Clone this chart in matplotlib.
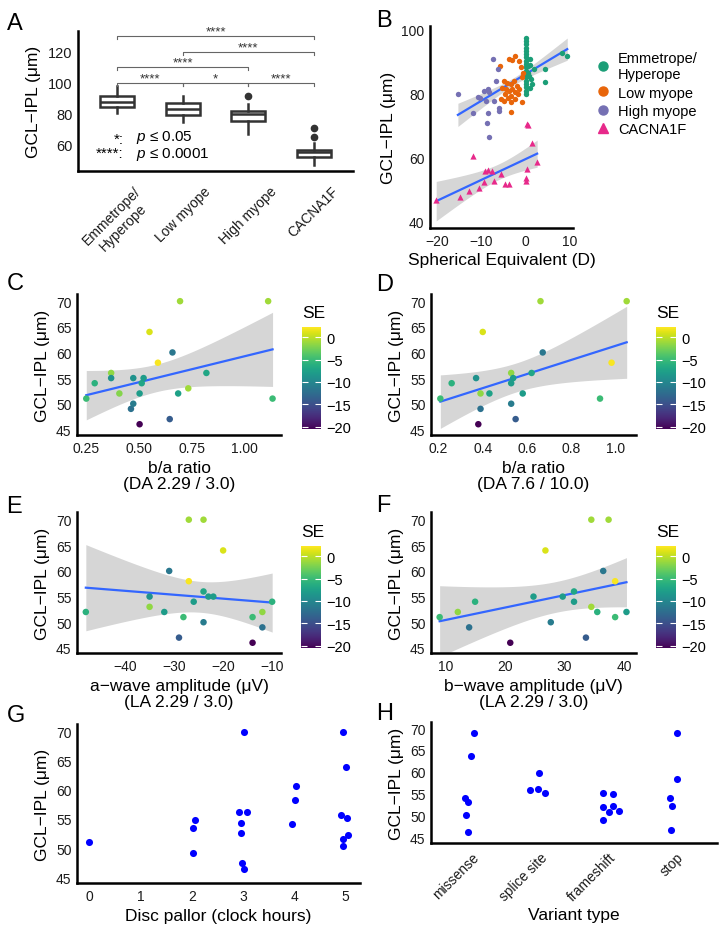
import matplotlib
matplotlib.use("Agg")
import matplotlib.pyplot as plt
import numpy as np
from matplotlib.colors import Normalize
from matplotlib.lines import Line2D

plt.rcParams["font.family"] = ["Liberation Sans", "DejaVu Sans"]
plt.rcParams["mathtext.fontset"] = "custom"
plt.rcParams["mathtext.it"] = "Liberation Sans:italic"
plt.rcParams["mathtext.rm"] = "Liberation Sans"

W, H = 721, 928
YLAB = "GCL\u2212IPL (\u03bcm)"

# ---------------- A: box stats per group ----------------
groups = ["Emmetrope/\nHyperope", "Low myope", "High myope", "CACNA1F"]
box_whislo = [80.6, 75.0, 67.1, 47.3]
box_q1 = [84.3, 79.6, 75.3, 52.3]
box_med = [88.0, 83.2, 80.0, 55.3]
box_q3 = [91.8, 86.9, 82.2, 57.0]
box_whishi = [98.3, 91.8, 86.5, 61.3]
box_fliers = [[], [], [91.4], [65.0, 71.0]]
sig_pairs = [(1, 2), (2, 3), (3, 4), (1, 3), (2, 4), (1, 4)]
sig_levels = [100, 100, 100, 110, 120, 130]
sig_labels = ["****", "*", "****", "****", "****", "****"]

# ---------------- B: SE vs GCL-IPL by group ----------------
em_x = [0, 0, 0, 0, 0, 0, 0, 0, 0, 0, 0, 0, 0, 0, 0, 0, 0, 0,
        0.5, 0.8, 1.0, 1.2, 1.0, 1.5, 1.9, 4.4, 4.4, 8.3, 9.4, 0.5, 1.0]
em_y = [97.4, 96.4, 95.3, 94.3, 93.3, 92.2, 91.2, 90.2, 89.1, 88.1, 87.0, 86.0,
        85.0, 83.9, 82.9, 81.9, 80.8, 79.8,
        88.5, 85.5, 90.7, 84.4, 81.8, 83.0, 87.5, 87.5, 83.7, 92.7, 91.7, 86.5, 89.0]
lm_x = [-3.8, -3.0, -2.3, -1.5, -5.9, -4.9, -4.1, -3.4, -2.6, -1.9, -5.3, -4.5, -3.8,
        -3.0, -2.3, -1.5, -4.7, -3.9, -3.2, -2.4, -1.7, -5.6, -4.9, -3.4, -0.75,
        -3.4, -0.9, -1.1, -0.5]
lm_y = [90.7, 90.4, 91.7, 90.1, 88.6, 83.9, 83.4, 82.9, 83.9, 82.3, 81.8, 81.3, 80.8,
        81.3, 80.3, 81.3, 79.8, 78.7, 79.2, 78.2, 79.8, 78.2, 77.7, 77.2, 77.2,
        74.2, 85.0, 88.1, 86.3]
hm_x = [-15.3, -12.0, -10.2, -8.6, -8.3, -9.0, -6.6, -7.4, -6.2, -6.0, -6.0, -8.5,
        -8.8, -8.3, -7.1, -9.5, -10.8]
hm_y = [79.8, 74.0, 78.7, 81.3, 80.3, 77.7, 83.9, 90.7, 87.7, 75.6, 74.6, 73.8,
        70.9, 66.3, 77.7, 80.8, 79.0]
cf_x = [-20.2, -14.9, -12.9, -11.8, -10.5, -9.4, -9.2, -8.6, -7.7, -7.1, -5.6, -4.7,
        -3.8, 0.0, 0.15, 0.4, 0.4, 0.6, 1.5, 2.6]
cf_y = [46.7, 47.8, 49.6, 60.5, 50.7, 52.4, 55.9, 56.2, 55.7, 52.8, 54.8, 51.7,
        51.7, 53.6, 52.8, 56.6, 70.4, 70.1, 64.5, 58.5]
b_labels = ["Emmetrope/\nHyperope", "Low myope", "High myope", "CACNA1F"]
b_colors = ["#1B9E77", "#E8650A", "#7570B3", "#E7298A"]

# ---------------- C-F: ERG vs GCL-IPL, coloured by SE ----------------
c_x = [0.25, 0.29, 0.368, 0.368, 0.407, 0.473, 0.462, 0.473, 0.503, 0.503, 0.513,
       0.522, 0.55, 0.59, 0.646, 0.659, 0.686, 0.695, 0.734, 0.82, 1.113, 1.134]
c_y = [51, 54, 56, 55, 52, 55, 49, 50, 46, 52, 54, 55, 64, 58, 47, 60, 52, 70, 53,
       56, 70, 51]
c_se = [-5, -6, -1.5, -9, -2, -9, -12, -11, -20.5, -8, -7, -8, 1, 2, -14, -11.5,
        -7.5, -1, -1, -7, -1, -5]

d_x = [0.209, 0.26, 0.37, 0.39, 0.39, 0.38, 0.40, 0.43, 0.528, 0.528, 0.528, 0.537,
       0.548, 0.58, 0.62, 0.66, 0.67, 0.928, 0.98, 1.048]
d_y = [51, 54, 55, 52, 49, 46, 64, 52, 56, 54, 50, 55, 47, 52, 56, 70, 60, 51, 58, 70]
d_se = [-5, -6, -9, -1.5, -12, -20.5, 1, -7.5, -1.5, -8, -11, -8, -14, -8, -7, -1,
        -11.5, -5, 2, -1]

e_x = [-48, -35, -35, -32, -31, -29, -28.1, -27, -27, -26, -24, -24, -24, -23, -22,
       -20, -14, -14, -12, -12, -10]
e_y = [52, 55, 53, 52, 60, 47, 51, 70, 58, 54, 70, 56, 50, 55, 55, 64, 51, 46, 52,
       49, 54]
e_se = [-6, -9, -1.5, -8, -11.5, -14, -5, -1, 2, -8, -1, -7, -11, -8, -8, 1, -5,
        -20.5, -1.5, -12, -6]

f_x = [9.05, 12.1, 14.0, 15.0, 20.9, 24.8, 26.8, 27.7, 29.7, 31.6, 31.6, 33.6, 34.5,
       34.5, 35.5, 36.5, 37.4, 38.5, 38.5, 40.4]
f_y = [51, 52, 49, 54, 46, 55, 64, 50, 55, 56, 54, 47, 70, 53, 52, 60, 70, 58, 51, 52]
f_se = [-5, -1.5, -12, -6, -20.5, -8, 1, -11, -8, -7, -8, -14, -1, -1, -6, -11.5,
        -1, 2, -5, -8]

# ---------------- G: disc pallor (jittered x as drawn) ----------------
g_x = [-0.02, 2.01, 2.06, 2.01, 3.01, 2.92, 3.07, 2.96, 2.96, 2.98, 3.02, 4.02,
       4.01, 3.95, 4.95, 5.00, 4.90, 5.02, 5.04, 4.94, 4.95]
g_y = [51.0, 53.4, 54.8, 49.1, 70.0, 56.2, 56.2, 54.3, 52.6, 47.5, 46.4, 60.6,
       58.2, 54.1, 70.0, 64.0, 55.6, 55.1, 52.3, 51.5, 50.3]

# ---------------- H: variant type ----------------
h_types = ["missense", "splice site", "frameshift", "stop"]
h_cat = [0] * 6 + [1] * 4 + [2] * 7 + [3] * 5
h_jit = [0.03, -0.01, -0.10, -0.05, -0.09, -0.05,
         -0.01, -0.14, -0.03, 0.07,
         -0.07, 0.07, -0.07, 0.07, 0.01, 0.16, -0.07,
         0.01, 0.01, -0.09, -0.06, -0.07]
h_y = [68.9, 63.7, 54.0, 53.1, 50.2, 46.2,
       59.8, 55.8, 56.1, 55.2,
       55.1, 54.9, 51.9, 52.1, 50.8, 51.1, 48.9,
       68.9, 58.4, 53.9, 52.2, 46.7]

SE_MIN, SE_MAX = -20.5, 2.25
TITLE_FS = 12.5


def px_axes(fig, x0, y0, x1, y1):
    return fig.add_axes([x0 / W, 1 - y1 / H, (x1 - x0) / W, (y1 - y0) / H])


def style(ax):
    for s in ("top", "right"):
        ax.spines[s].set_visible(False)
    for s in ("left", "bottom"):
        ax.spines[s].set_linewidth(1.8)
        ax.spines[s].set_color("black")
    ax.tick_params(length=0, pad=4, labelsize=10, labelcolor="#1a1a1a")
    ax.set_facecolor("none")


def fit_band(x, y, xs):
    x = np.asarray(x, float)
    y = np.asarray(y, float)
    n = len(x)
    b, a = np.polyfit(x, y, 1)
    yhat = a + b * xs
    s = np.sqrt(np.sum((y - (a + b * x)) ** 2) / (n - 2))
    se = s * np.sqrt(1 / n + (xs - x.mean()) ** 2 / np.sum((x - x.mean()) ** 2))
    z, df = 1.959964, n - 2
    t = z + (z ** 3 + z) / (4 * df) + (5 * z ** 5 + 16 * z ** 3 + 3 * z) / (96 * df ** 2)
    return yhat, yhat - t * se, yhat + t * se


def add_fit(ax, x, y):
    xs = np.linspace(min(x), max(x), 100)
    yhat, lo, hi = fit_band(x, y, xs)
    ax.fill_between(xs, lo, hi, color="#999999", alpha=0.4, lw=0, zorder=1)
    ax.plot(xs, yhat, color="#3366FF", lw=1.6, zorder=2)


fig = plt.figure(figsize=(W / 100, H / 100), dpi=100)

# panel letters
for letter, x, y in [("A", 7, 30), ("B", 376, 27), ("C", 7, 290), ("D", 376, 291),
                     ("E", 6, 513), ("F", 376, 512), ("G", 7, 722), ("H", 376, 720)]:
    fig.text(x / W, 1 - y / H, letter, fontsize=17, va="baseline", ha="left")

# ---------------- A ----------------
ax = px_axes(fig, 78, 32, 353, 172)
style(ax)
stats = []
for i in range(len(groups)):
    stats.append(dict(whislo=box_whislo[i], q1=box_q1[i], med=box_med[i], q3=box_q3[i],
                      whishi=box_whishi[i], fliers=box_fliers[i]))
dark = "#333333"
ax.bxp(stats, positions=range(1, 5), widths=0.52, showcaps=False, patch_artist=True,
       boxprops=dict(facecolor="white", edgecolor=dark, linewidth=1.8),
       medianprops=dict(color=dark, linewidth=1.8),
       whiskerprops=dict(color=dark, linewidth=1.8),
       flierprops=dict(marker="o", markerfacecolor=dark, markeredgecolor=dark,
                       markersize=4.5))
for (g1, g2), lev, lab in zip(sig_pairs, sig_levels, sig_labels):
    ax.plot([g1, g1, g2, g2], [lev - 1.7, lev, lev, lev - 1.7], color="#666666",
            lw=0.8, clip_on=False)
    ax.text((g1 + g2) / 2, lev + 1.2, lab, ha="center", va="baseline", fontsize=9.5,
            color="#333333")
ax.text(1.10, 52.5, "*:\n****:", ha="right", va="baseline", fontsize=11,
        linespacing=0.95, multialignment="right")
ax.text(1.29, 52.5, "$p$ \u2264 0.05\n$p$ \u2264 0.0001", ha="left", va="baseline",
        fontsize=11, linespacing=0.95)
ax.set_xlim(0.4, 4.6)
ax.set_ylim(43.2, 133.5)
ax.set_yticks([60, 80, 100, 120])
ax.set_xticks(range(1, 5))
ax.set_xticklabels(groups, rotation=45, ha="center", va="top", fontsize=10,
                   multialignment="center")
ax.tick_params(axis="x", pad=9)
ax.tick_params(axis="y", labelsize=10.5)
ax.set_ylabel(YLAB, fontsize=TITLE_FS, labelpad=5)

# ---------------- B ----------------
ax = px_axes(fig, 430, 27, 573, 229)
style(ax)
ctrl_x = em_x + lm_x + hm_x
ctrl_y = em_y + lm_y + hm_y
add_fit(ax, ctrl_x, ctrl_y)
add_fit(ax, cf_x, cf_y)
for xs, ys, col in [(em_x, em_y, b_colors[0]), (lm_x, lm_y, b_colors[1]),
                    (hm_x, hm_y, b_colors[2])]:
    ax.scatter(xs, ys, s=15, color=col, lw=0, zorder=3)
ax.scatter(cf_x, cf_y, s=20, marker="^", color=b_colors[3], lw=0, zorder=3)
ax.set_xlim(-21.6, 10.7)
ax.set_ylim(38.1, 101)
ax.set_xticks([-20, -10, 0, 10])
ax.set_yticks([40, 60, 80, 100])
ax.set_xlabel("Spherical Equivalent (D)", fontsize=TITLE_FS, labelpad=3)
ax.set_ylabel(YLAB, fontsize=TITLE_FS, labelpad=4)
handles = [Line2D([0], [0], marker=m, color=c, lw=0, markersize=6.5)
           for m, c in zip(["o", "o", "o", "^"], b_colors)]
ax.legend(handles, b_labels, loc="upper left", bbox_to_anchor=(596 / W, 1 - 52 / H),
          bbox_transform=fig.transFigure, frameon=False, fontsize=10.5,
          handlelength=0.9, handletextpad=0.6, labelspacing=0.3, borderpad=0,
          borderaxespad=0)

# ---------------- C-F ----------------
norm = Normalize(SE_MIN, SE_MAX)
panels = [
    (c_x, c_y, c_se, (77, 295, 281, 436), (302, 328, 321, 430), (0.206, 1.174),
     (43.9, 71.4), [0.25, 0.50, 0.75, 1.00], "b/a ratio\n(DA 2.29 / 3.0)", "%.2f"),
    (d_x, d_y, d_se, (431, 295, 636, 436), (656, 328, 676, 430), (0.167, 1.09),
     (43.9, 71.4), [0.2, 0.4, 0.6, 0.8, 1.0], "b/a ratio\n(DA 7.6 / 10.0)", "%.1f"),
    (e_x, e_y, e_se, (77, 513, 281, 654), (301, 547, 321, 649), (-49.8, -8.2),
     (44.0, 71.5), [-40, -30, -20, -10], "a\u2212wave amplitude (\u03bcV)\n(LA 2.29 / 3.0)",
     None),
    (f_x, f_y, f_se, (431, 513, 636, 654), (656, 547, 676, 649), (7.6, 42.0),
     (44.0, 71.5), [10, 20, 30, 40], "b\u2212wave amplitude (\u03bcV)\n(LA 2.29 / 3.0)",
     None),
]
for xs, ys, se, box, cbox, xl, yl, xt, xlab, fmt in panels:
    ax = px_axes(fig, *box)
    style(ax)
    add_fit(ax, xs, ys)
    sc = ax.scatter(xs, ys, c=se, cmap="viridis", norm=norm, s=22, lw=0, zorder=3)
    ax.set_xlim(*xl)
    ax.set_ylim(*yl)
    ax.set_xticks(xt)
    if fmt:
        ax.set_xticklabels([fmt % v for v in xt])
    else:
        ax.set_xticklabels([str(v).replace("-", "\u2212") for v in xt])
    ax.set_yticks([45, 50, 55, 60, 65, 70])
    ax.set_xlabel(xlab, fontsize=TITLE_FS, labelpad=4, linespacing=1.1)
    ax.set_ylabel(YLAB, fontsize=TITLE_FS, labelpad=4)
    cax = px_axes(fig, *cbox)
    cb = fig.colorbar(sc, cax=cax, ticks=[0, -5, -10, -15, -20])
    cb.outline.set_visible(False)
    cax.tick_params(direction="in", color="white", length=4, width=0.8, left=True,
                    right=True, labelsize=10.5, pad=4)
    cax.set_title("SE", loc="left", fontsize=12.5, pad=7)

# ---------------- G ----------------
ax = px_axes(fig, 77, 725, 360, 884)
style(ax)
ax.scatter(g_x, g_y, s=26, color="#0000FF", lw=0)
ax.set_xlim(-0.25, 5.28)
ax.set_ylim(44.0, 71.3)
ax.set_xticks(range(6))
ax.set_yticks([45, 50, 55, 60, 65, 70])
ax.set_xlabel("Disc pallor (clock hours)", fontsize=TITLE_FS, labelpad=4)
ax.set_ylabel(YLAB, fontsize=TITLE_FS, labelpad=4)

# ---------------- H ----------------
ax = px_axes(fig, 431, 723, 717, 844)
style(ax)
hx = [c + 1 + j for c, j in zip(h_cat, h_jit)]
ax.scatter(hx, h_y, s=26, color="#0000FF", lw=0)
ax.set_xlim(0.4, 4.6)
ax.set_ylim(43.7, 71.4)
ax.set_xticks(range(1, 5))
ax.set_xticklabels(h_types, rotation=45, ha="right", va="top",
                   rotation_mode="anchor", fontsize=10)
ax.tick_params(axis="x", pad=5)
ax.set_yticks([45, 50, 55, 60, 65, 70])
ax.set_xlabel("Variant type", fontsize=TITLE_FS, labelpad=3)
ax.set_ylabel(YLAB, fontsize=TITLE_FS, labelpad=4)

fig.savefig("out.png", dpi=100, facecolor="white")
